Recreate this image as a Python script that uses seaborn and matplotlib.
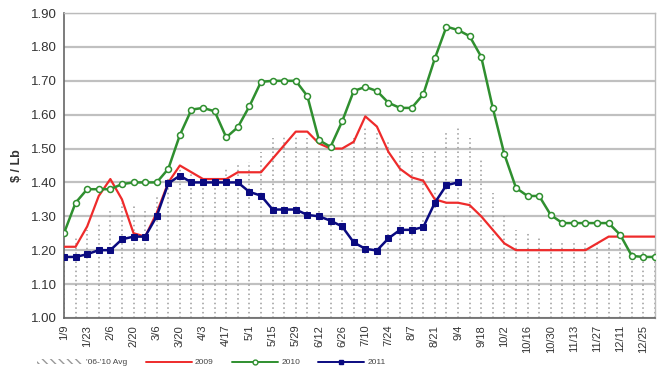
import numpy as np
import pandas as pd
import matplotlib
matplotlib.use("Agg")
import matplotlib.pyplot as plt
from matplotlib.patches import Patch
from matplotlib.lines import Line2D
import seaborn as sns

# Weekly price, $ / Lb
weeks = ["1/9", "1/16", "1/23", "1/30", "2/6", "2/13", "2/20", "2/27", "3/6", "3/13",
         "3/20", "3/27", "4/3", "4/10", "4/17", "4/24", "5/1", "5/8", "5/15", "5/22",
         "5/29", "6/5", "6/12", "6/19", "6/26", "7/3", "7/10", "7/17", "7/24", "7/31",
         "8/7", "8/14", "8/21", "8/28", "9/4", "9/11", "9/18", "9/25", "10/2", "10/9",
         "10/16", "10/23", "10/30", "11/6", "11/13", "11/20", "11/27", "12/4", "12/11", "12/18",
         "12/25", "1/1"]

avg_06_10 = [1.22, 1.24, 1.26, 1.28, 1.32, 1.34, 1.33, 1.32, 1.36, 1.42,
             1.44, 1.43, 1.42, 1.42, 1.44, 1.45, 1.46, 1.49, 1.53, 1.54,
             1.54, 1.53, 1.50, 1.48, 1.49, 1.53, 1.56, 1.55, 1.52, 1.50,
             1.49, 1.49, 1.50, 1.55, 1.56, 1.53, 1.47, 1.37, 1.30, 1.26,
             1.25, 1.24, 1.23, 1.22, 1.22, 1.22, 1.22, 1.23, 1.22, 1.20,
             1.20, 1.20]

y2009 = [1.21, 1.21, 1.27, 1.36, 1.41, 1.35, 1.25, 1.24, 1.31, 1.40,
         1.45, 1.43, 1.41, 1.41, 1.41, 1.43, 1.43, 1.43, 1.47, 1.51,
         1.55, 1.55, 1.515, 1.50, 1.50, 1.52, 1.595, 1.565, 1.49, 1.44,
         1.415, 1.405, 1.35, 1.34, 1.34, 1.333, 1.30, 1.26, 1.22, 1.20,
         1.20, 1.20, 1.20, 1.20, 1.20, 1.20, 1.22, 1.24, 1.24, 1.24,
         1.24, 1.24]

y2010 = [1.25, 1.34, 1.38, 1.38, 1.38, 1.395, 1.40, 1.40, 1.40, 1.44,
         1.54, 1.615, 1.62, 1.61, 1.533, 1.563, 1.625, 1.697, 1.70, 1.70,
         1.70, 1.655, 1.525, 1.505, 1.58, 1.67, 1.682, 1.67, 1.635, 1.62,
         1.62, 1.66, 1.766, 1.86, 1.85, 1.832, 1.771, 1.62, 1.483, 1.384,
         1.36, 1.36, 1.304, 1.28, 1.28, 1.28, 1.28, 1.28, 1.245, 1.183,
         1.18, 1.18]

y2011 = [1.18, 1.18, 1.188, 1.20, 1.20, 1.232, 1.24, 1.24, 1.30, 1.397,
         1.42, 1.40, 1.40, 1.40, 1.40, 1.40, 1.372, 1.361, 1.32, 1.32,
         1.32, 1.304, 1.30, 1.287, 1.27, 1.223, 1.204, 1.199, 1.235, 1.26,
         1.26, 1.268, 1.34, 1.392, 1.40]

idx = np.arange(len(weeks))
df = pd.DataFrame({"week": idx, "avg": avg_06_10, "y2009": y2009, "y2010": y2010})
df11 = pd.DataFrame({"week": idx[:len(y2011)], "y2011": y2011})

sns.set_style("white")
plt.rcParams["font.family"] = ["Liberation Sans", "DejaVu Sans"]

fig = plt.figure(figsize=(6.57, 3.74), dpi=100)
ax = fig.add_axes([0.0974, 0.150, 0.8996, 0.815])

RED = "#ee2b2b"
GREEN = "#2f8f2f"
NAVY = "#0a0a80"
GRID = "#c0c0c0"

# horizontal gridlines
for v in np.arange(1.0, 1.91, 0.1):
    ax.axhline(v, color=GRID, lw=1.6, zorder=0)

# 5-year average drawn as dotted columns
ax.vlines(df["week"], 1.0, df["avg"], colors="#9a9a9a", linestyles=(0, (1, 2.0)),
          lw=1.1, zorder=1)

sns.lineplot(data=df, x="week", y="y2009", ax=ax, color=RED, lw=1.6, zorder=3)
sns.lineplot(data=df, x="week", y="y2010", ax=ax, color=GREEN, lw=1.8, marker="o",
             markersize=4.3, markerfacecolor="white", markeredgecolor=GREEN,
             markeredgewidth=1.1, zorder=4)
sns.lineplot(data=df11, x="week", y="y2011", ax=ax, color=NAVY, lw=1.8, marker="s",
             markersize=4.3, markerfacecolor=NAVY, markeredgecolor=NAVY, zorder=5)

ax.set_xlim(0, len(weeks) - 1)
ax.set_ylim(1.0, 1.9)
ax.set_yticks(np.arange(1.0, 1.91, 0.1))
ax.set_yticklabels([f"{v:.2f}" for v in np.arange(1.0, 1.91, 0.1)], fontsize=9.5,
                   color="#333333")
ax.set_xticks(idx)
ax.set_xticklabels([w if i % 2 == 0 else "" for i, w in enumerate(weeks)],
                   rotation=90, fontsize=8, color="#333333")
ax.tick_params(axis="both", direction="out", length=3, width=0.8, color="#555555", pad=2)
ax.set_xlabel("")
ax.set_ylabel("$ / Lb", fontsize=9, fontweight="bold", color="#333333", labelpad=6)

for side in ["left", "bottom"]:
    ax.spines[side].set_color("#666666")
    ax.spines[side].set_linewidth(1.2)
for side in ["top", "right"]:
    ax.spines[side].set_color("#bbbbbb")
    ax.spines[side].set_linewidth(1.0)

handles = [
    Patch(facecolor="white", edgecolor="#999999", hatch="\\\\\\\\", lw=0),
    Line2D([], [], color=RED, lw=1.4),
    Line2D([], [], color=GREEN, lw=1.4, marker="o", markersize=3.5,
           markerfacecolor="white", markeredgecolor=GREEN),
    Line2D([], [], color=NAVY, lw=1.4, marker="s", markersize=3.5, markerfacecolor=NAVY),
]
labels = ["'06-'10 Avg", "2009", "2010", "2011"]
fig.legend(handles, labels, loc="lower left", bbox_to_anchor=(0.045, 0.0), ncol=4,
           frameon=False, fontsize=6, handlelength=5.5, handleheight=0.6,
           columnspacing=2.2, handletextpad=0.4, labelcolor="#444444")

fig.savefig("out.png", dpi=100)
